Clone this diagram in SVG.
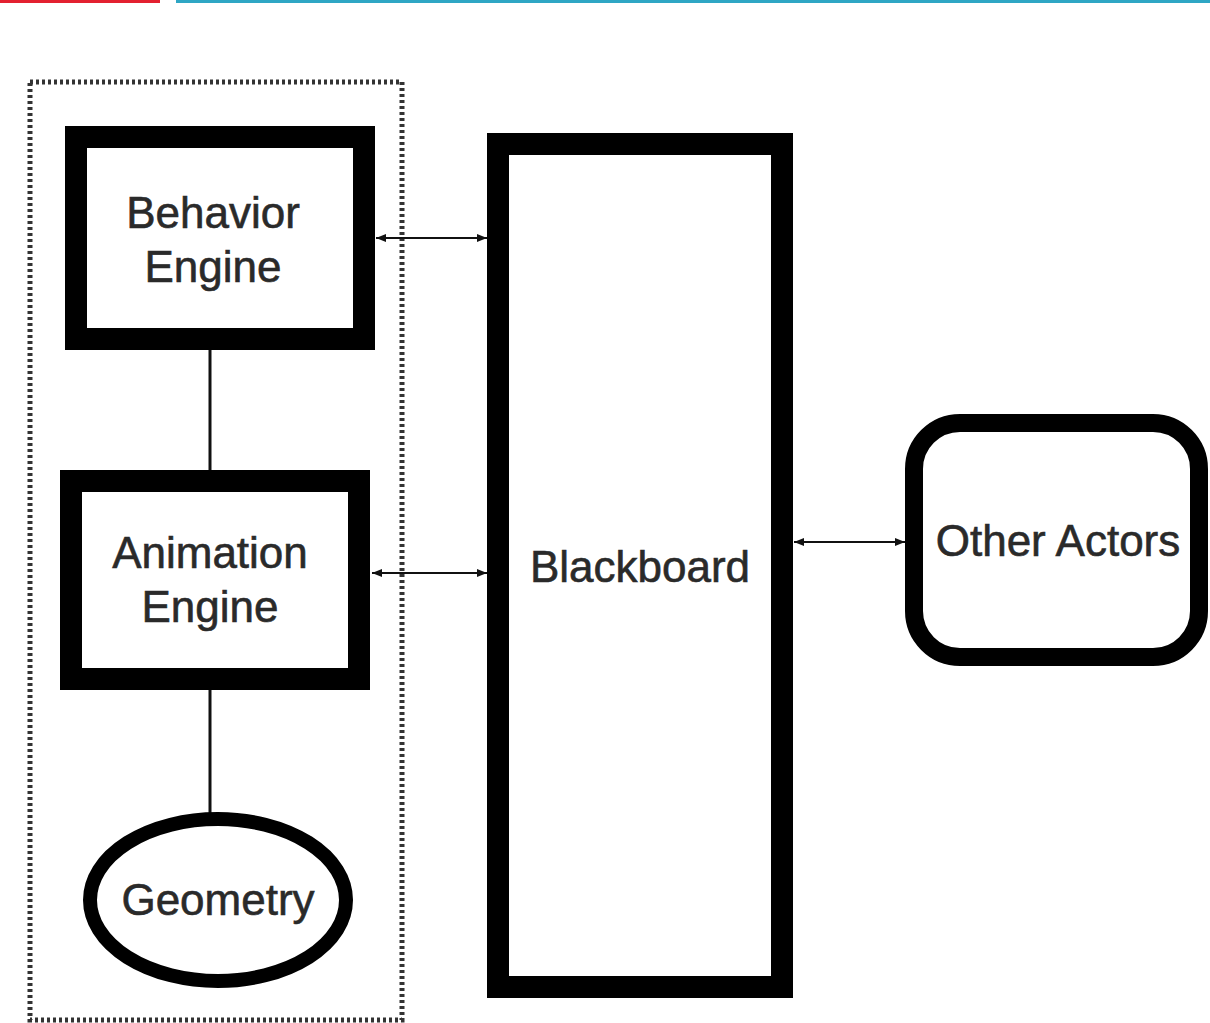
<svg xmlns="http://www.w3.org/2000/svg" width="1210" height="1023" viewBox="0 0 1210 1023">
<style>
.box{fill:#fff;stroke:#000}
.lbl{font-family:"Liberation Sans",Arial,sans-serif;font-size:44px;fill:#2a2a2a;text-anchor:middle;stroke:#2a2a2a;stroke-width:0.6}
.conn{stroke:#111;fill:none}
</style>
<defs>
<marker id="ah" viewBox="0 0 10 10" refX="10" refY="5" markerWidth="10" markerHeight="10" markerUnits="userSpaceOnUse" orient="auto-start-reverse">
<path d="M0,1 L10,5 L0,9 z" fill="#111"/>
</marker>
</defs>
<rect x="0" y="0" width="160" height="3" fill="#e32030"/>
<rect x="176" y="0" width="1034" height="3" fill="#2ea6c4"/>
<g id="group-boundary">
<rect x="30" y="82" width="372" height="938" fill="none" stroke="#333" stroke-width="5" stroke-dasharray="3,3"/>
</g>
<g id="connectors">
<line class="conn" x1="210" y1="345" x2="210" y2="475" stroke-width="3"/>
<line class="conn" x1="210" y1="685" x2="210" y2="815" stroke-width="3"/>
<line class="conn" x1="376" y1="238" x2="487" y2="238" stroke-width="2" marker-start="url(#ah)" marker-end="url(#ah)"/>
<line class="conn" x1="372" y1="573" x2="487" y2="573" stroke-width="2" marker-start="url(#ah)" marker-end="url(#ah)"/>
<line class="conn" x1="794" y1="542" x2="905" y2="542" stroke-width="2" marker-start="url(#ah)" marker-end="url(#ah)"/>
</g>
<g id="behavior-engine">
<rect class="box" x="76" y="137" width="288" height="202" stroke-width="22"/>
<text class="lbl" x="213" y="228">Behavior</text>
<text class="lbl" x="213" y="282">Engine</text>
</g>
<g id="animation-engine">
<rect class="box" x="71" y="481" width="288" height="198" stroke-width="22"/>
<text class="lbl" x="210" y="568">Animation</text>
<text class="lbl" x="210" y="622">Engine</text>
</g>
<g id="geometry">
<ellipse class="box" cx="218" cy="900" rx="128" ry="81" stroke-width="14"/>
<text class="lbl" x="218" y="915">Geometry</text>
</g>
<g id="blackboard">
<rect class="box" x="498" y="144" width="284" height="843" stroke-width="22"/>
<text class="lbl" x="640" y="582">Blackboard</text>
</g>
<g id="other-actors">
<rect class="box" x="914" y="423" width="285" height="234" rx="46" ry="46" stroke-width="18"/>
<text class="lbl" x="1058" y="556">Other Actors</text>
</g>
</svg>
